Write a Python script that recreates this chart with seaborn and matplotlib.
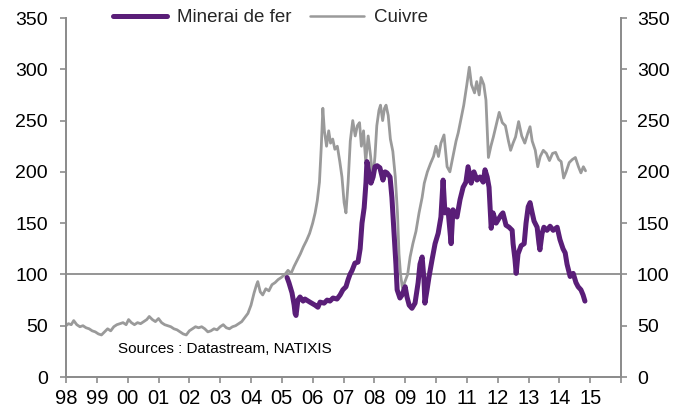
import matplotlib
matplotlib.use("Agg")
import matplotlib.pyplot as plt
import seaborn as sns
import pandas as pd
from matplotlib.lines import Line2D

# Copper price index (decimal year, index level)
copper_t = [
    1998.00, 1998.08, 1998.17, 1998.25, 1998.35, 1998.45, 1998.55, 1998.65, 1998.75, 1998.85, 1998.95,
    1999.05, 1999.15, 1999.25, 1999.35, 1999.45, 1999.55, 1999.65, 1999.75, 1999.85, 1999.95,
    2000.03, 2000.12, 2000.22, 2000.32, 2000.42, 2000.52, 2000.62, 2000.70, 2000.80, 2000.90,
    2001.00, 2001.10, 2001.20, 2001.30, 2001.40, 2001.50, 2001.60, 2001.70, 2001.80, 2001.90,
    2002.00, 2002.10, 2002.20, 2002.30, 2002.40, 2002.50, 2002.60, 2002.70, 2002.80, 2002.90,
    2003.00, 2003.10, 2003.20, 2003.30, 2003.40, 2003.50, 2003.60, 2003.70, 2003.80, 2003.90,
    2004.00, 2004.10, 2004.18, 2004.22, 2004.30, 2004.38, 2004.48, 2004.58, 2004.68, 2004.78, 2004.88, 2004.98,
    2005.10, 2005.20, 2005.30, 2005.40, 2005.50, 2005.60, 2005.70, 2005.80, 2005.90,
    2006.00, 2006.08, 2006.15, 2006.22, 2006.28, 2006.33, 2006.38, 2006.45, 2006.52, 2006.58, 2006.65,
    2006.72, 2006.80, 2006.88, 2006.95,
    2007.02, 2007.08, 2007.15, 2007.22, 2007.30, 2007.38, 2007.45, 2007.52, 2007.58, 2007.65, 2007.72,
    2007.80, 2007.88, 2007.95,
    2008.02, 2008.08, 2008.15, 2008.20, 2008.27, 2008.33, 2008.38, 2008.45, 2008.52, 2008.60, 2008.68,
    2008.75, 2008.80, 2008.85, 2008.92, 2008.98,
    2009.08, 2009.16, 2009.25, 2009.35, 2009.45, 2009.55, 2009.62, 2009.72, 2009.82, 2009.92,
    2010.00, 2010.08, 2010.16, 2010.26, 2010.36, 2010.45, 2010.55, 2010.65, 2010.72, 2010.80, 2010.90,
    2011.00, 2011.08, 2011.15, 2011.25, 2011.32, 2011.40, 2011.46, 2011.55, 2011.62, 2011.70, 2011.78,
    2011.86, 2011.94,
    2012.05, 2012.15, 2012.25, 2012.35, 2012.42, 2012.50, 2012.58, 2012.68, 2012.78, 2012.88, 2012.98,
    2013.05, 2013.12, 2013.22, 2013.30, 2013.38, 2013.48, 2013.58, 2013.68, 2013.78, 2013.88, 2013.98,
    2014.06, 2014.14, 2014.22, 2014.32, 2014.42, 2014.52, 2014.62, 2014.70, 2014.78, 2014.85,
]
copper_v = [
    50, 52, 51, 55, 51, 49, 50, 48, 47, 45, 44,
    42, 41, 44, 47, 45, 49, 51, 52, 53, 51,
    56, 53, 51, 53, 52, 54, 56, 59, 56, 54,
    57, 53, 51, 50, 49, 47, 46, 44, 42, 41,
    45, 47, 49, 48, 49, 47, 44, 45, 47, 46,
    49, 51, 48, 47, 49, 50, 52, 54, 58, 62,
    70, 82, 90, 93, 83, 80, 86, 84, 90, 92, 95, 97,
    100, 104, 101, 108, 114, 120, 127, 133, 140,
    150, 160, 172, 190, 225, 262, 240, 225, 240, 228, 232,
    222, 225, 210, 195,
    170, 160, 190, 230, 250, 235, 245, 248, 225, 240, 210,
    235, 215, 192,
    215, 245, 260, 265, 250, 262, 265, 255, 232, 220, 195,
    160, 120, 100, 85, 92,
    100, 117, 130, 142, 160, 175, 189, 200, 208, 215,
    225, 215, 228, 236, 205, 200, 215, 230, 238, 250, 265,
    285, 302, 285, 277, 288, 275, 292, 285, 270, 214, 225,
    234, 244,
    258, 248, 245, 230, 221, 228, 234, 249, 235, 228, 238,
    244, 230, 221, 205, 215, 221, 218, 211, 218, 219, 212,
    210, 194, 200, 209, 212, 214, 205, 199, 205, 201,
]

# Iron ore price index (decimal year, index level)
iron_t = [
    2005.17, 2005.23, 2005.33, 2005.40, 2005.43, 2005.46, 2005.52, 2005.59, 2005.69, 2005.75, 2005.91,
    2006.08, 2006.17, 2006.24, 2006.37, 2006.47, 2006.56, 2006.66, 2006.79, 2006.89, 2006.98,
    2007.08, 2007.15, 2007.21, 2007.28, 2007.37, 2007.47, 2007.54, 2007.60, 2007.67, 2007.73, 2007.76,
    2007.83, 2007.89, 2007.96,
    2008.02, 2008.09, 2008.18, 2008.28, 2008.35, 2008.41, 2008.51, 2008.57, 2008.64, 2008.70, 2008.74,
    2008.83, 2008.90,
    2009.00, 2009.06, 2009.13, 2009.22, 2009.32, 2009.42, 2009.48, 2009.55, 2009.61, 2009.64, 2009.71,
    2009.77, 2009.87, 2009.97,
    2010.07, 2010.16, 2010.23, 2010.29, 2010.39, 2010.49, 2010.55, 2010.68, 2010.78, 2010.88, 2010.97,
    2011.04, 2011.14, 2011.23, 2011.33, 2011.43, 2011.53, 2011.59, 2011.66, 2011.72, 2011.79, 2011.85,
    2011.95,
    2012.01, 2012.11, 2012.17, 2012.27, 2012.37, 2012.47, 2012.50, 2012.56, 2012.60, 2012.66, 2012.76,
    2012.86, 2012.92, 2012.99,
    2013.05, 2013.12, 2013.18, 2013.28, 2013.34, 2013.37, 2013.44, 2013.50, 2013.60, 2013.70, 2013.80,
    2013.93,
    2014.02, 2014.12, 2014.19, 2014.25, 2014.35, 2014.45, 2014.54, 2014.61, 2014.70, 2014.77, 2014.83,
]
iron_v = [
    97, 92, 82, 70, 62, 60, 75, 78, 74, 76, 73,
    70, 68, 73, 72, 75, 74, 77, 76, 80, 85,
    88, 95, 100, 104, 111, 112, 125, 150, 165, 190, 210,
    198, 189, 195,
    205, 206, 204, 192, 200, 199, 195, 175, 140, 110, 85,
    77, 80,
    88, 78, 70, 67, 72, 92, 110, 117, 95, 72, 85,
    97, 114, 130,
    140, 156, 192, 160, 163, 130, 163, 156, 173, 185, 190,
    205, 189, 200, 192, 195, 190, 202, 195, 185, 145, 160,
    150,
    153, 158, 160, 148, 146, 143, 130, 115, 101, 120, 128,
    130, 150, 166,
    170, 160, 152, 146, 130, 124, 140, 146, 143, 147, 143,
    146,
    134, 125, 121, 110, 98, 101, 92, 88, 85, 80, 74,
]

year_ticks = list(range(1998, 2017))
year_labels = ["98", "99", "00", "01", "02", "03", "04", "05", "06", "07",
               "08", "09", "10", "11", "12", "13", "14", "15", ""]
y_ticks = [0, 50, 100, 150, 200, 250, 300, 350]

IRON_COLOR = "#5a1e78"
COPPER_COLOR = "#9a9a9a"
AXIS_COLOR = "#8c8c8c"

sns.set_theme(style="white")
plt.rcParams["font.family"] = ["Liberation Sans", "DejaVu Sans"]

copper = pd.DataFrame({"t": copper_t, "v": copper_v})
iron = pd.DataFrame({"t": iron_t, "v": iron_v})

fig = plt.figure(figsize=(6.74, 4.12), dpi=100)
ax = fig.add_axes([66 / 674, 1 - 377 / 412, 555 / 674, 359 / 412])

ax.axhline(100, color=AXIS_COLOR, lw=1.3, zorder=1)
sns.lineplot(data=copper, x="t", y="v", ax=ax, color=COPPER_COLOR, lw=2.0,
             estimator=None, sort=False, zorder=2)
sns.lineplot(data=iron, x="t", y="v", ax=ax, color=IRON_COLOR, lw=3.6,
             estimator=None, sort=False, zorder=3, solid_capstyle="round",
             solid_joinstyle="round")

ax.set_xlim(1998, 2016)
ax.set_ylim(0, 350)
ax.set_xlabel("")
ax.set_ylabel("")
ax.set_xticks(year_ticks)
ax.set_xticklabels(year_labels)
ax.set_yticks(y_ticks)

ax2 = ax.twinx()
ax2.set_ylim(0, 350)
ax2.set_yticks(y_ticks)

for a in (ax, ax2):
    for side, sp in a.spines.items():
        sp.set_color(AXIS_COLOR)
        sp.set_linewidth(1.3)
    a.spines["top"].set_visible(False)

ax.tick_params(axis="y", direction="out", length=4.5, width=1.2, color=AXIS_COLOR,
               pad=8.5, labelsize=14, left=True, labelcolor="black")
ax.tick_params(axis="x", direction="out", length=4, width=1.2, color=AXIS_COLOR,
               pad=5, labelsize=14.5, bottom=True, labelcolor="black")
ax2.tick_params(axis="y", direction="out", length=4.5, width=1.2, color=AXIS_COLOR,
                pad=7, labelsize=14, right=True, labelcolor="black")

ax.text((118 - 66) / 555, (377 - 349) / 359, "Sources : Datastream, NATIXIS",
        transform=ax.transAxes, fontsize=11, ha="left", va="center", color="black")

handles = [
    Line2D([], [], color=IRON_COLOR, lw=3.6, solid_capstyle="round"),
    Line2D([], [], color=COPPER_COLOR, lw=1.8),
]
fig.legend(handles, ["Minerai de fer", "Cuivre"], loc="upper left",
           bbox_to_anchor=(113 / 674, 1 - 9 / 412), ncol=2, frameon=False,
           fontsize=13.5, handlelength=2.9, handletextpad=0.5, columnspacing=1.0,
           borderpad=0, borderaxespad=0)

fig.savefig("out.png", dpi=100)
